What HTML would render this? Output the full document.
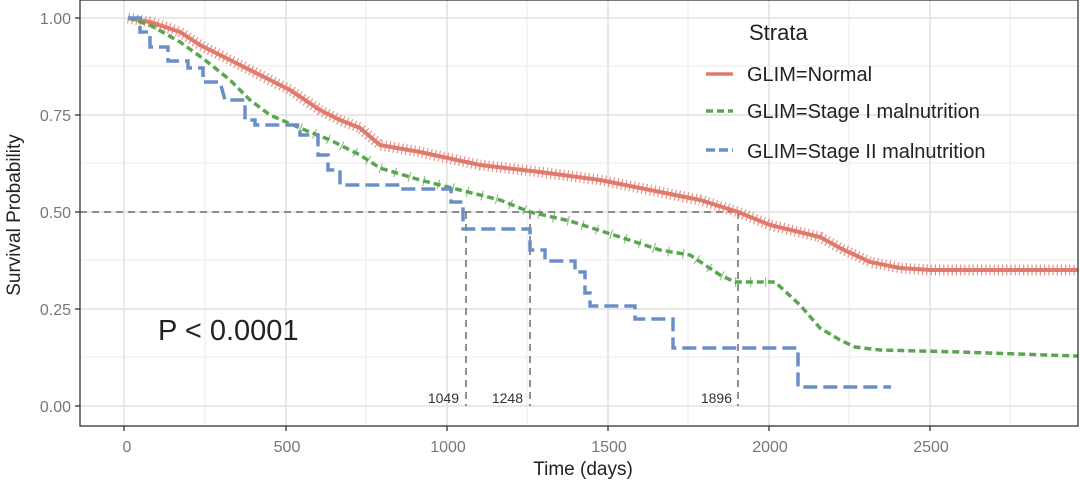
<!DOCTYPE html>
<html><head><meta charset="utf-8"><style>
body{margin:0;background:#fff}
svg{display:block;font-family:"Liberation Sans",sans-serif}
</style></head><body>
<svg width="1080" height="482" viewBox="0 0 1080 482" xmlns="http://www.w3.org/2000/svg">
<rect x="0" y="0" width="1080" height="482" fill="#fff"/>
<g stroke="#ebebeb" stroke-width="1">
<line x1="205" y1="0" x2="205" y2="426"/><line x1="366" y1="0" x2="366" y2="426"/><line x1="527" y1="0" x2="527" y2="426"/><line x1="688" y1="0" x2="688" y2="426"/><line x1="849" y1="0" x2="849" y2="426"/><line x1="1010" y1="0" x2="1010" y2="426"/>
<line x1="80" y1="66" x2="1078" y2="66"/><line x1="80" y1="163" x2="1078" y2="163"/><line x1="80" y1="260" x2="1078" y2="260"/><line x1="80" y1="357" x2="1078" y2="357"/>
</g>
<g stroke="#e0e0e0" stroke-width="1.5">
<line x1="124" y1="0" x2="124" y2="426"/><line x1="286" y1="0" x2="286" y2="426"/><line x1="447" y1="0" x2="447" y2="426"/><line x1="608" y1="0" x2="608" y2="426"/><line x1="769" y1="0" x2="769" y2="426"/><line x1="930" y1="0" x2="930" y2="426"/>
<line x1="80" y1="18" x2="1078" y2="18"/><line x1="80" y1="115" x2="1078" y2="115"/><line x1="80" y1="212" x2="1078" y2="212"/><line x1="80" y1="309" x2="1078" y2="309"/><line x1="80" y1="406" x2="1078" y2="406"/>
</g>
<g stroke="#555" stroke-width="1.3" stroke-dasharray="7,5" fill="none">
<line x1="80" y1="212" x2="738" y2="212"/>
<line x1="466" y1="212" x2="466" y2="406"/>
<line x1="530" y1="212" x2="530" y2="406"/>
<line x1="738" y1="212" x2="738" y2="406"/>
</g>
<g font-size="14" fill="#333" text-anchor="end">
<text x="459" y="403">1049</text><text x="523" y="403">1248</text><text x="732" y="403">1896</text>
</g>
<!-- red -->
<polyline fill="none" stroke="#e07a6d" stroke-width="4" points="128,18 150,22 180,32 200,45 230,60 260,75 290,90 320,110 340,120 360,128 380,145 420,152 480,165 540,172 600,180 650,190 700,200 738,212 770,225 820,237 840,248 870,262 900,268 930,270 1078,270"/>
<polyline fill="none" stroke="#e07a6d" stroke-width="11" stroke-dasharray="1.2,3" opacity="0.8" points="128,18 150,22 180,32 200,45 230,60 260,75 290,90 320,110 340,120 360,128 380,145 420,152 480,165 540,172 600,180 650,190 700,200 738,212 770,225 820,237 840,248 870,262 900,268 930,270 1078,270"/>
<!-- green -->
<polyline fill="none" stroke="#5aa650" stroke-width="3.5" stroke-dasharray="7,4" points="128,18 150,25 180,42 205,60 230,80 250,100 270,115 300,128 330,140 360,155 380,168 420,180 460,190 500,200 530,212 570,221 620,237 660,250 690,255 720,275 735,282 775,282 800,305 820,328 840,340 855,347 880,350 960,352 1078,356"/>
<polyline fill="none" stroke="#5aa650" stroke-width="10" stroke-dasharray="1,14" opacity="0.8" points="300,128 330,140 360,155 380,168 420,180 460,190 500,200 530,212 570,221 620,237 660,250 690,255 720,275 735,282 775,282"/>
<!-- blue -->
<polyline fill="none" stroke="#6a8fc8" stroke-width="3.5" stroke-dasharray="14,6" points="128,18 140,18 140,32 150,32 150,47 168,47 168,61 188,61 188,68 203,68 203,82 220,82 225,100 245,100 245,120 255,120 255,125 300,125 300,135 318,135 318,155 328,155 328,170 340,170 340,185 400,185 400,189 451,189 451,202 463,202 463,229 530,229 530,250 545,250 545,261 575,261 575,272 585,272 585,293 590,293 590,306 635,306 635,319 673,319 673,348 798,348 798,387 891,387"/>
<rect x="80" y="0" width="998" height="426" fill="none" stroke="#333" stroke-width="1.3"/>
<g stroke="#333" stroke-width="1.3">
<line x1="75" y1="18" x2="80" y2="18"/><line x1="75" y1="115" x2="80" y2="115"/><line x1="75" y1="212" x2="80" y2="212"/><line x1="75" y1="309" x2="80" y2="309"/><line x1="75" y1="406" x2="80" y2="406"/>
<line x1="124" y1="426" x2="124" y2="431"/><line x1="286" y1="426" x2="286" y2="431"/><line x1="447" y1="426" x2="447" y2="431"/><line x1="608" y1="426" x2="608" y2="431"/><line x1="769" y1="426" x2="769" y2="431"/><line x1="930" y1="426" x2="930" y2="431"/>
</g>
<g font-size="16" fill="#777" text-anchor="end">
<text x="71" y="24">1.00</text><text x="71" y="121">0.75</text><text x="71" y="218">0.50</text><text x="71" y="315">0.25</text><text x="71" y="412">0.00</text>
</g>
<g font-size="16" fill="#777" text-anchor="middle">
<text x="127" y="452">0</text><text x="287" y="452">500</text><text x="448" y="452">1000</text><text x="609" y="452">1500</text><text x="770" y="452">2000</text><text x="931" y="452">2500</text>
</g>
<text x="583" y="475" font-size="19" fill="#222" text-anchor="middle">Time (days)</text>
<text transform="translate(20,215) rotate(-90)" font-size="19" fill="#222" text-anchor="middle">Survival Probability</text>
<text x="158" y="340" font-size="29" fill="#222">P &lt; 0.0001</text>
<text x="749" y="40" font-size="22" fill="#222">Strata</text>
<g stroke-width="3.5">
<line x1="706" y1="74" x2="733" y2="74" stroke="#e07a6d"/>
<line x1="706" y1="111" x2="733" y2="111" stroke="#5aa650" stroke-dasharray="7,4"/>
<line x1="706" y1="150" x2="733" y2="150" stroke="#6a8fc8" stroke-dasharray="9,4"/>
</g>
<g font-size="20" fill="#222">
<text x="747" y="81">GLIM=Normal</text>
<text x="747" y="118">GLIM=Stage I malnutrition</text>
<text x="747" y="158">GLIM=Stage II malnutrition</text>
</g>
</svg>
</body></html>
